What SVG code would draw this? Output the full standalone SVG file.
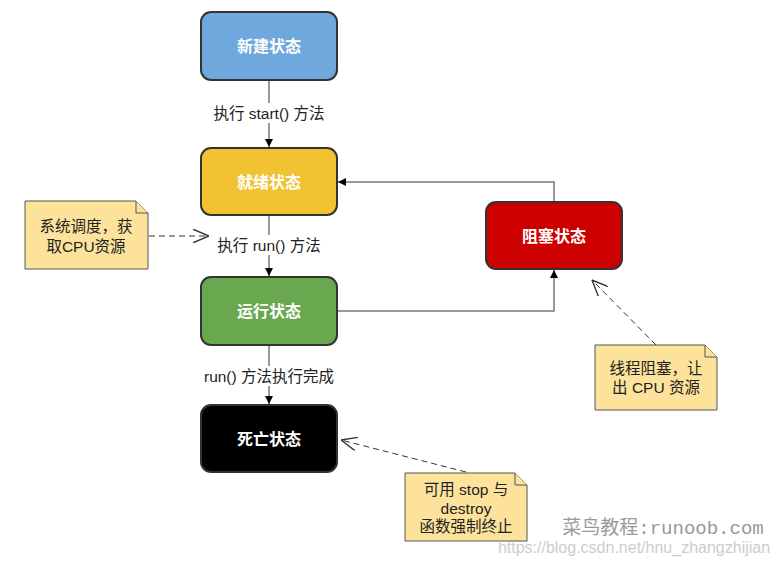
<svg xmlns="http://www.w3.org/2000/svg" width="777" height="564" viewBox="0 0 777 564">
<defs>
<style>
.node{stroke:#333;stroke-width:2}
.nt{font-family:"Liberation Sans","Noto Sans CJK SC",sans-serif;font-size:16px;font-weight:bold;fill:#fff;text-anchor:middle}
.lbl{font-family:"Liberation Sans","Noto Sans CJK SC",sans-serif;font-size:15.5px;fill:#222;text-anchor:middle}
.edge{fill:none;stroke:#777;stroke-width:1.5}
.dash{fill:none;stroke:#333;stroke-width:1;stroke-dasharray:6,4}
.note{fill:#FCE29A;stroke:#555;stroke-width:1}
.wm{font-family:"Liberation Sans","Noto Sans CJK SC",sans-serif;text-anchor:middle}
</style>
<marker id="arr" viewBox="0 0 10 10" refX="10" refY="5" markerWidth="8" markerHeight="8" orient="auto" markerUnits="userSpaceOnUse">
<path d="M0,0 L10,5 L0,10 z" fill="#000"/>
</marker>
<marker id="open" viewBox="0 0 14 12" refX="14" refY="6" markerWidth="16" markerHeight="14" orient="auto" markerUnits="userSpaceOnUse">
<path d="M0,0 L14,6 L0,12" fill="none" stroke="#333" stroke-width="1.2"/>
</marker>
</defs>
<rect width="777" height="564" fill="#fff"/>
<g id="connectors">
<line class="edge" x1="269" y1="81" x2="269" y2="147" marker-end="url(#arr)"/>
<rect x="208" y="103" width="122" height="20" fill="#fff"/>
<text class="lbl" x="269" y="119">执行 start() 方法</text>
<line class="edge" x1="269" y1="216" x2="269" y2="276" marker-end="url(#arr)"/>
<rect x="213" y="235" width="112" height="20" fill="#fff"/>
<text class="lbl" x="269" y="251">执行 run() 方法</text>
<line class="edge" x1="269" y1="346" x2="269" y2="404" marker-end="url(#arr)"/>
<rect x="199" y="366" width="140" height="20" fill="#fff"/>
<text class="lbl" x="269" y="382">run() 方法执行完成</text>
<polyline class="edge" points="338,311 554,311 554,270" marker-end="url(#arr)"/>
<polyline class="edge" points="554,201 554,182 338,182" marker-end="url(#arr)"/>
<line class="dash" x1="149" y1="236" x2="209" y2="236" marker-end="url(#open)"/>
<line class="dash" x1="656" y1="345" x2="592" y2="280" marker-end="url(#open)"/>
<line class="dash" x1="466" y1="472" x2="341" y2="440" marker-end="url(#open)"/>
</g>
<g id="n-new"><rect class="node" x="201" y="12" width="136" height="68" rx="10" fill="#6FA8DC"/><text class="nt" x="269" y="52">新建状态</text></g>
<g id="n-ready"><rect class="node" x="201" y="148" width="136" height="67" rx="10" fill="#F1C232"/><text class="nt" x="269" y="188">就绪状态</text></g>
<g id="n-run"><rect class="node" x="201" y="277" width="136" height="68" rx="10" fill="#6AA84F"/><text class="nt" x="269" y="317">运行状态</text></g>
<g id="n-dead"><rect class="node" x="201" y="405" width="136" height="67" rx="10" fill="#000"/><text class="nt" x="269" y="445">死亡状态</text></g>
<g id="n-block"><rect class="node" x="486" y="202" width="136" height="67" rx="10" fill="#CC0000"/><text class="nt" x="554" y="242">阻塞状态</text></g>
<g id="note1">
<path class="note" d="M25,201 H136 L148,213 V269 H25 Z"/>
<path class="note" d="M136,201 V213 H148"/>
<text class="lbl" x="86" y="232">系统调度，获</text>
<text class="lbl" x="86" y="252">取CPU资源</text>
</g>
<g id="note2">
<path class="note" d="M595,345 H705 L717,357 V410 H595 Z"/>
<path class="note" d="M705,345 V357 H717"/>
<text class="lbl" x="656" y="374">线程阻塞，让</text>
<text class="lbl" x="656" y="393">出 CPU 资源</text>
</g>
<g id="note3">
<path class="note" d="M405,473 H515 L527,485 V541 H405 Z"/>
<path class="note" d="M515,473 V485 H527"/>
<text class="lbl" x="466" y="495">可用 stop 与</text>
<text class="lbl" x="466" y="514">destroy</text>
<text class="lbl" x="466" y="532">函数强制终止</text>
</g>
<text class="wm" x="663" y="534" font-size="19" fill="#999">菜鸟教程<tspan font-family="Liberation Mono,monospace">:runoob.com</tspan></text>
<text class="wm" x="634" y="553" font-size="16" fill="#ccc">https://blog.csdn.net/hnu_zhangzhijian</text>
</svg>
